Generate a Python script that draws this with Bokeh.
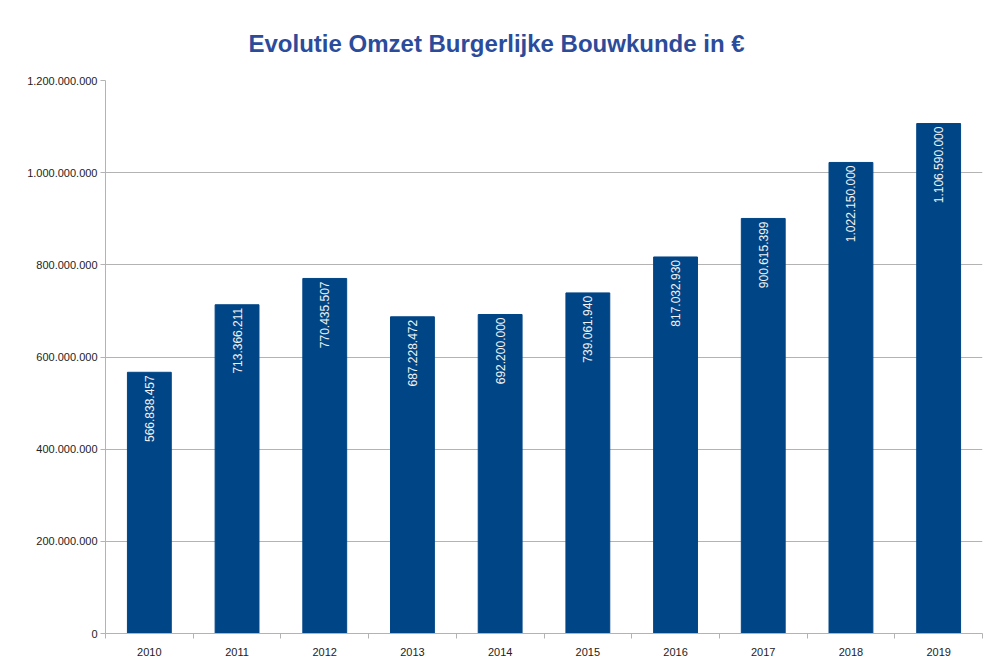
import math
from bokeh.plotting import figure
from bokeh.models import ColumnDataSource, FixedTicker, Range1d
from bokeh.core.properties import value
from bokeh.embed import file_html
from bokeh.resources import INLINE

years = ["2010", "2011", "2012", "2013", "2014", "2015", "2016", "2017", "2018", "2019"]
omzet = [566838457, 713366211, 770435507, 687228472, 692200000, 739061940,
         817032930, 900615399, 1022150000, 1106590000]
y_ticks = [0, 200000000, 400000000, 600000000, 800000000, 1000000000, 1200000000]

def fmt(v):
    return f"{v:,}".replace(",", ".")

xs = [i + 0.5 for i in range(len(years))]
src = ColumnDataSource(dict(x=xs, top=omzet, label=[fmt(v) for v in omzet]))

p = figure(width=1000, height=669, output_backend="svg", toolbar_location=None,
           x_range=Range1d(0, len(years)), y_range=Range1d(0, 1200000000),
           title="Evolutie Omzet Burgerlijke Bouwkunde in €",
           min_border_left=105, min_border_right=18, min_border_bottom=36, min_border_top=80)

p.title.align = "left"
p.title.offset = 143
p.title.text_font = "Liberation Sans"
p.title.text_font_size = "24px"
p.title.text_font_style = "bold"
p.title.text_color = "#2b4c9b"
p.title.standoff = 48

p.vbar(x="x", top="top", width=0.5, bottom=0, source=src, color="#004586")
p.text(x="x", y="top", text="label", source=src, angle=math.pi / 2,
       text_align="right", text_baseline="middle", y_offset=3,
       text_font=value("Liberation Sans"), text_font_size="12px", text_color="#f2f2f2")

# x axis
p.xaxis.ticker = FixedTicker(ticks=xs, minor_ticks=list(range(len(years) + 1)))
p.xaxis.major_label_overrides = {x: y for x, y in zip(xs, years)}
p.xaxis.major_tick_line_color = None
p.xaxis.minor_tick_in = 0
p.xaxis.minor_tick_out = 5
p.xaxis.minor_tick_line_color = "#b3b3b3"
p.xaxis.axis_line_color = "#b3b3b3"
p.xaxis.major_label_text_font = "Liberation Sans"
p.xaxis.major_label_text_font_size = "11px"
p.xaxis.major_label_text_color = "#222222"
p.xaxis.major_label_standoff = 8

# y axis
p.yaxis.ticker = FixedTicker(ticks=y_ticks)
p.yaxis.major_label_overrides = {t: fmt(t) for t in y_ticks}
p.yaxis.minor_tick_line_color = None
p.yaxis.major_tick_in = 0
p.yaxis.major_tick_out = 5
p.yaxis.major_tick_line_color = "#b3b3b3"
p.yaxis.axis_line_color = "#b3b3b3"
p.yaxis.major_label_text_font = "Liberation Sans"
p.yaxis.major_label_text_font_size = "11px"
p.yaxis.major_label_text_color = "#222222"
p.yaxis.major_label_standoff = 3

p.xgrid.grid_line_color = None
p.ygrid.grid_line_color = "#b3b3b3"
p.outline_line_color = None

open("out.html", "w").write(file_html(p, INLINE))
